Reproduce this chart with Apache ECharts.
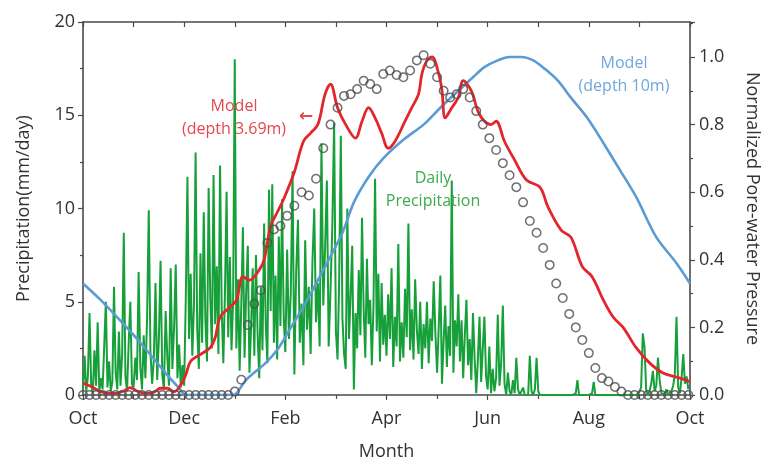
<!DOCTYPE html>
<html>
<head>
<meta charset="utf-8">
<script src="https://cdn.jsdelivr.net/npm/echarts@6/dist/echarts.min.js"></script>
<style>
  html, body { margin: 0; padding: 0; background: #fff; }
  #chart { width: 761px; height: 462px; }
</style>
</head>
<body>
<div id="chart"></div>
<script>
// Month tick labels (Oct -> Oct) and month lengths for the water year
const monthLabels = ['Oct', 'Nov', 'Dec', 'Jan', 'Feb', 'Mar', 'Apr', 'May', 'Jun', 'Jul', 'Aug', 'Sep', 'Oct'];
const monthDays = [31, 30, 31, 31, 28, 31, 30, 31, 30, 31, 31, 30];

// Daily precipitation (mm/day), one array per month
const precipOct = [0.3, 2.1, 0.2, 1.0, 4.4, 0.6, 0.1, 2.4, 0.5, 3.9, 0.2, 0.9, 0.3, 2.6, 5.0, 0.4, 1.8, 0.2, 0.7, 5.8, 1.2, 0.3, 3.4, 0.5, 2.2, 8.7, 1.0, 0.2, 2.8, 5.0, 0.6];
const precipNov = [0.4, 2.0, 0.8, 6.6, 1.5, 0.3, 3.2, 0.9, 4.1, 9.9, 2.3, 0.6, 1.9, 6.0, 0.8, 3.0, 7.2, 1.1, 0.3, 4.5, 2.0, 0.5, 6.8, 1.4, 3.6, 7.0, 0.9, 2.7, 0.4, 1.6];
const precipDec = [0.5, 5.2, 11.7, 3.0, 6.5, 2.1, 4.8, 13.0, 3.5, 1.4, 7.6, 2.8, 9.8, 4.0, 1.8, 11.1, 5.2, 2.5, 11.8, 3.8, 6.9, 2.2, 12.3, 4.6, 1.7, 5.5, 10.9, 3.1, 7.4, 2.4, 5.0];
const precipJan = [18.0, 2.5, 6.2, 1.3, 4.8, 9.0, 2.0, 5.5, 8.0, 1.2, 3.6, 6.8, 2.1, 7.5, 3.3, 0.9, 5.8, 2.4, 9.2, 3.8, 1.7, 11.0, 4.5, 11.3, 2.8, 6.4, 1.9, 8.5, 3.7, 10.5, 4.2];
const precipFeb = [2.3, 7.8, 3.0, 5.4, 12.0, 1.1, 6.6, 9.4, 2.8, 4.9, 1.6, 8.3, 3.5, 5.8, 2.2, 7.1, 10.0, 3.9, 6.0, 2.6, 13.5, 4.8, 7.9, 11.5, 2.6, 5.6, 9.0, 14.6];
const precipMar = [3.4, 1.9, 6.2, 13.9, 4.1, 2.2, 1.4, 10.0, 3.0, 5.3, 8.0, 0.3, 4.4, 2.5, 6.7, 3.2, 9.5, 4.6, 2.0, 7.3, 3.8, 5.1, 1.6, 4.7, 11.6, 3.4, 6.5, 1.8, 6.0, 2.7, 4.3];
const precipApr = [2.1, 5.4, 3.0, 6.8, 1.5, 4.2, 2.6, 8.1, 1.8, 3.9, 2.0, 5.7, 3.1, 9.2, 2.4, 4.6, 1.9, 6.2, 3.5, 2.2, 5.0, 1.4, 3.8, 2.5, 5.0, 1.7, 4.1, 2.9, 6.1, 3.3];
const precipMay = [1.2, 3.6, 6.4, 0.6, 2.9, 4.8, 1.5, 3.7, 2.1, 11.5, 1.2, 4.0, 2.6, 5.4, 1.8, 4.0, 0.9, 3.2, 5.1, 1.6, 3.0, 0.8, 4.4, 2.0, 0.1, 1.9, 4.2, 0.7, 2.5, 4.2, 1.0];
const precipJun = [0.3, 2.6, 0.1, 1.4, 0.2, 0.9, 4.3, 0.5, 1.7, 4.8, 0.6, 0.0, 1.2, 0.2, 0.0, 0.8, 0.1, 2.0, 0.3, 0.0, 0.0, 0.4, 0.0, 0.1, 0.0, 2.1, 0.2, 0.0, 0.3, 2.0];
const precipJul = [0.2, 0, 0, 0, 0, 0, 0, 0, 0, 0, 0, 0, 0, 0, 0, 0, 0, 0, 0, 0, 0, 0, 0, 0.1, 0.8, 0, 0, 0, 0, 0, 0];
const precipAug = [0, 0, 0.1, 0.7, 0, 0, 0, 0, 0, 0, 0, 0, 0, 0, 0, 0, 0, 0, 0, 0, 0, 0, 0, 0, 0, 0, 0, 0, 0, 0, 0];
const precipSep = [0, 0.4, 3.3, 2.6, 0.3, 0, 0.2, 0.6, 1.3, 0.2, 0.5, 2.0, 0.8, 0.1, 0, 0, 0.3, 0, 0, 0.2, 0.5, 1.1, 4.2, 0.4, 0.1, 0.9, 2.2, 0.6, 1.0, 0.3];

// Model pore-water pressure at 3.69 m depth (day of water year, normalized value)
const model369Days = [0, 5, 10, 15, 20, 25, 29, 33, 38, 43, 47, 51, 55, 59, 62, 65, 71, 77, 80, 83, 89, 93, 97, 101, 107, 110, 114, 118, 122, 128, 133, 137, 141, 145, 148, 152, 157, 163, 167, 171, 175, 179, 183, 187, 193, 197, 201, 203, 206, 209, 213, 215, 217, 221, 225, 228, 233, 237, 241, 245, 248, 253, 259, 266, 274, 279, 287, 293, 300, 306, 313, 319, 325, 333, 341, 349, 357, 365];
const model369Values = [0.035, 0.025, 0.012, 0.005, 0.005, 0.012, 0.022, 0.012, 0.005, 0.008, 0.02, 0.02, 0.01, 0.03, 0.06, 0.10, 0.12, 0.14, 0.17, 0.23, 0.26, 0.28, 0.35, 0.34, 0.37, 0.40, 0.50, 0.54, 0.58, 0.66, 0.75, 0.775, 0.80, 0.89, 0.92, 0.85, 0.80, 0.76, 0.81, 0.85, 0.82, 0.775, 0.73, 0.75, 0.81, 0.85, 0.89, 0.95, 0.99, 1.0, 0.95, 0.90, 0.82, 0.85, 0.88, 0.93, 0.90, 0.84, 0.81, 0.80, 0.81, 0.75, 0.695, 0.636, 0.615, 0.556, 0.488, 0.467, 0.38, 0.35, 0.28, 0.23, 0.20, 0.14, 0.095, 0.065, 0.053, 0.04];

// Model pore-water pressure at 10 m depth
const model10Days = [0, 10, 20, 30, 40, 50, 58, 62, 70, 80, 90, 93, 99, 111, 119, 125, 135, 145, 155, 162, 171, 180, 192, 204, 214, 225, 234, 241, 249, 256, 263, 270, 277, 285, 293, 303, 313, 323, 333, 345, 357, 365];
const model10Values = [0.33, 0.285, 0.235, 0.183, 0.125, 0.065, 0.02, 0.0, 0.0, 0.0, 0.0, 0.005, 0.045, 0.095, 0.14, 0.19, 0.28, 0.38, 0.48, 0.57, 0.645, 0.70, 0.755, 0.80, 0.85, 0.90, 0.94, 0.97, 0.99, 1.0, 1.0, 0.99, 0.965, 0.93, 0.88, 0.82, 0.745, 0.666, 0.586, 0.467, 0.39, 0.33];

// Observed normalized pore-water pressure, sampled every 4 days from day 0
const observedStepDays = 4;
const observedValues = [
  0, 0, 0, 0, 0, 0, 0, 0, 0, 0, 0, 0, 0, 0, 0, 0, 0, 0, 0, 0, 0, 0, 0,
  0.01, 0.045, 0.207, 0.27, 0.31, 0.45, 0.49, 0.50, 0.53, 0.56, 0.60, 0.59, 0.64, 0.73, 0.80, 0.85,
  0.885, 0.89, 0.905, 0.93, 0.92, 0.905, 0.95, 0.96, 0.947, 0.94, 0.96, 0.99, 1.005, 0.98, 0.94, 0.90,
  0.88, 0.89, 0.905, 0.88, 0.84, 0.80, 0.76, 0.725, 0.686, 0.65, 0.615, 0.57, 0.515, 0.48, 0.435, 0.385,
  0.33, 0.287, 0.24, 0.20, 0.163, 0.124, 0.08, 0.05, 0.04, 0.024, 0.01,
  0, 0, 0, 0, 0, 0, 0, 0, 0, 0
];

// Convert a day of the water year into the month-based x coordinate
function dayToX(d) {
  let m = 0;
  while (m < 12 && d >= monthDays[m]) { d -= monthDays[m]; m++; }
  return m + d / (monthDays[m] || 1);
}

const monthlyPrecip = [precipOct, precipNov, precipDec, precipJan, precipFeb, precipMar,
  precipApr, precipMay, precipJun, precipJul, precipAug, precipSep];
const precipData = [];
monthlyPrecip.forEach((arr, m) => {
  arr.forEach((v, i) => precipData.push([m + i / monthDays[m], v]));
});
const model369Data = model369Days.map((d, i) => [dayToX(d), model369Values[i]]);
const model10Data = model10Days.map((d, i) => [dayToX(d), model10Values[i]]);
const observedData = observedValues.map((v, i) => [dayToX(i * observedStepDays), v]);

const FONT = '"Open Sans", "Noto Sans", sans-serif';
const AXIS_COLOR = '#4a4a4a';
const TEXT_COLOR = '#333';

const chart = echarts.init(document.getElementById('chart'), null, { renderer: 'canvas' });
chart.setOption({
  animation: false,
  backgroundColor: '#fff',
  textStyle: { fontFamily: FONT },
  grid: { left: 83, right: 71, top: 22, bottom: 67, containLabel: false, outerBoundsMode: 'none' },
  xAxis: [
    {
      type: 'value', position: 'bottom', min: 0, max: 12, interval: 2,
      axisLine: { show: true, onZero: false, lineStyle: { color: AXIS_COLOR, width: 1.6 } },
      axisTick: { show: true, length: 5, lineStyle: { color: AXIS_COLOR, width: 1.2 } },
      minorTick: { show: true, splitNumber: 2, length: 4, lineStyle: { color: AXIS_COLOR, width: 1.2 } },
      splitLine: { show: false },
      axisLabel: { formatter: v => monthLabels[v] || '', fontSize: 18, color: TEXT_COLOR, margin: 15, fontFamily: FONT },
      name: 'Month', nameLocation: 'middle', nameGap: 48,
      nameTextStyle: { fontSize: 18, color: TEXT_COLOR, fontFamily: FONT }
    },
    {
      type: 'value', position: 'top', min: 0, max: 12, interval: 1,
      axisLine: { show: true, onZero: false, lineStyle: { color: AXIS_COLOR, width: 1.6 } },
      axisTick: { show: true, inside: true, length: 5, lineStyle: { color: AXIS_COLOR, width: 1.2 } },
      axisLabel: { show: false },
      splitLine: { show: false }
    }
  ],
  yAxis: [
    {
      type: 'value', position: 'left', min: 0, max: 20, interval: 5,
      axisLine: { show: true, onZero: false, lineStyle: { color: AXIS_COLOR, width: 1.6 } },
      axisTick: { show: true, length: 5, lineStyle: { color: AXIS_COLOR, width: 1.2 } },
      minorTick: { show: true, splitNumber: 2, length: 3, lineStyle: { color: AXIS_COLOR, width: 1.2 } },
      splitLine: { show: false },
      axisLabel: { fontSize: 18, color: TEXT_COLOR, margin: 8, fontFamily: FONT },
      name: 'Precipitation(mm/day)', nameLocation: 'middle', nameGap: 50, nameRotate: 90,
      nameTextStyle: { fontSize: 18, color: TEXT_COLOR, fontFamily: FONT }
    },
    {
      type: 'value', position: 'right', min: 0, max: 1.1036, interval: 0.2,
      axisLine: { show: true, onZero: false, lineStyle: { color: AXIS_COLOR, width: 1.6 } },
      axisTick: { show: true, length: 5, lineStyle: { color: AXIS_COLOR, width: 1.2 } },
      minorTick: { show: true, splitNumber: 2, length: 3, lineStyle: { color: AXIS_COLOR, width: 1.2 } },
      splitLine: { show: false },
      axisLabel: { fontSize: 18, color: TEXT_COLOR, margin: 9, showMaxLabel: false, fontFamily: FONT,
        formatter: v => v.toFixed(1) },
      name: 'Normalized Pore-water Pressure', nameLocation: 'middle', nameGap: 53, nameRotate: -90,
      nameTextStyle: { fontSize: 18, color: TEXT_COLOR, fontFamily: FONT }
    }
  ],
  series: [
    {
      name: 'Daily Precipitation', type: 'line', xAxisIndex: 0, yAxisIndex: 0,
      data: precipData, showSymbol: false, symbol: 'none',
      lineStyle: { color: '#17a03a', width: 2 }, z: 2
    },
    {
      name: 'Model (depth 10m)', type: 'line', xAxisIndex: 0, yAxisIndex: 1,
      data: model10Data, showSymbol: false, symbol: 'none', smooth: 0.3,
      lineStyle: { color: '#5a9bd4', width: 2.6 }, z: 3
    },
    {
      name: 'Model (depth 3.69m)', type: 'line', xAxisIndex: 0, yAxisIndex: 1,
      data: model369Data, showSymbol: false, symbol: 'none', smooth: 0.35,
      lineStyle: { color: '#e3262b', width: 2.8 }, z: 4
    },
    {
      name: 'Observed', type: 'scatter', xAxisIndex: 0, yAxisIndex: 1,
      data: observedData, symbol: 'circle', symbolSize: 8.5,
      itemStyle: { color: 'rgba(255,255,255,0)', borderColor: '#4d4d4d', borderWidth: 1.5 }, z: 5
    }
  ],
  graphic: [
    { type: 'text', x: 234, y: 98, style: { text: 'Model', fill: '#e5474d', font: '16px ' + FONT, align: 'center' }, z: 10 },
    { type: 'text', x: 234, y: 121, style: { text: '(depth 3.69m)', fill: '#e5474d', font: '16px ' + FONT, align: 'center' }, z: 10 },
    { type: 'text', x: 306, y: 108, style: { text: '\u2190', fill: '#e5474d', font: 'bold 17px "DejaVu Sans", sans-serif', align: 'center' }, z: 10 },
    { type: 'text', x: 624, y: 55, style: { text: 'Model', fill: '#6ea7db', font: '16px ' + FONT, align: 'center' }, z: 10 },
    { type: 'text', x: 624, y: 78, style: { text: '(depth 10m)', fill: '#6ea7db', font: '16px ' + FONT, align: 'center' }, z: 10 },
    { type: 'text', x: 433, y: 170, style: { text: 'Daily', fill: '#3cab4c', font: '16px ' + FONT, align: 'center' }, z: 10 },
    { type: 'text', x: 433, y: 193, style: { text: 'Precipitation', fill: '#3cab4c', font: '16px ' + FONT, align: 'center' }, z: 10 }
  ]
});
</script>
</body>
</html>
